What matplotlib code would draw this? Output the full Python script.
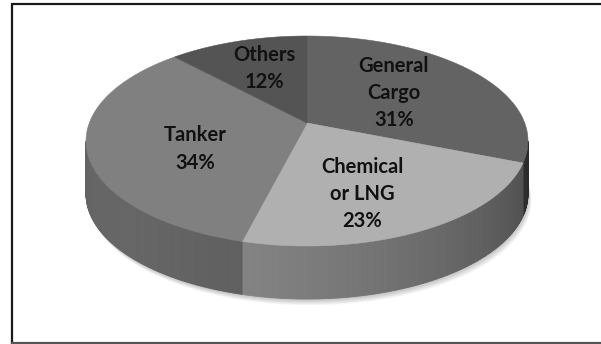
import numpy as np
import matplotlib.pyplot as plt
from matplotlib.collections import PolyCollection
from matplotlib.patches import Polygon

# Ship types and their share of the fleet (clockwise from 12 o'clock)
labels = ["General\nCargo", "Chemical\nor LNG", "Tanker", "Others"]
shares = [31, 23, 34, 12]
top_grays = [0.39, 0.69, 0.50, 0.33]

# Label placement inside each slice: radius fraction and angle nudge (deg)
label_r = [0.52, 0.66, 0.55, 0.63]
label_shift = [-2, 7, -12, 1.5]

# Perspective pie geometry (pixel space)
cx, cy = 307, 123          # where the slices meet
a, b, k = 217.7, 101.9, 0.1715
depth = 53


def project(x, y):
    d = 1 + k * y
    return cx + a * x / d, cy - b * y / d


def arc(t0, t1, n):
    t = np.radians(np.linspace(t0, t1, n))
    return project(np.sin(t), np.cos(t))


def side_shade(theta):
    return 0.58 + 0.22 * np.cos(np.radians(theta - 235))


fig = plt.figure(figsize=(6.01, 3.44), dpi=100)
ax = fig.add_axes([0, 0, 1, 1])
ax.set_xlim(0, 601)
ax.set_ylim(344, 0)
ax.axis("off")

# chart frame
ax.plot([11.5, 11.5, 602], [342.5, 3.5, 3.5], color="#1a1a1a", lw=1.6,
        solid_joinstyle="miter")
ax.plot([11.5, 602], [342.5, 342.5], color="#555555", lw=1.6)

# soft shadow under the pie
sx, sy = arc(0, 360, 200)
for s in range(7, 0, -1):
    ax.add_patch(Polygon(np.column_stack([sx + s * 0.5, sy + depth + s * 0.9]),
                         closed=True, fc="black", ec="none", alpha=0.035, zorder=1))

edges = np.concatenate([[0], np.cumsum(shares)]) / sum(shares) * 360
front0 = np.degrees(np.arccos(-k))
front1 = 360 - front0

# sides (front half only)
quads, colors = [], []
for i, g in enumerate(top_grays):
    t0, t1 = max(edges[i], front0), min(edges[i + 1], front1)
    if t1 <= t0:
        continue
    ts = np.linspace(t0, t1, max(int((t1 - t0) * 2), 2))
    px, py = project(np.sin(np.radians(ts)), np.cos(np.radians(ts)))
    for j in range(len(ts) - 1):
        quads.append([(px[j], py[j]), (px[j + 1], py[j + 1]),
                      (px[j + 1], py[j + 1] + depth), (px[j], py[j] + depth)])
        c = g * side_shade(0.5 * (ts[j] + ts[j + 1]))
        colors.append((c, c, c))
ax.add_collection(PolyCollection(quads, facecolors=colors, edgecolors=colors,
                                 linewidths=0.6, zorder=2))

# top faces
for i, g in enumerate(top_grays):
    x, y = arc(edges[i], edges[i + 1], 120)
    pts = np.column_stack([np.r_[cx, x], np.r_[cy, y]])
    ax.add_patch(Polygon(pts, closed=True, fc=(g, g, g), ec=(g, g, g),
                         lw=0.4, zorder=3))

# labels
for i, (name, v) in enumerate(zip(labels, shares)):
    mid = np.radians((edges[i] + edges[i + 1]) / 2 + label_shift[i])
    lx, ly = project(label_r[i] * np.sin(mid), label_r[i] * np.cos(mid))
    ax.text(lx, ly, f"{name}\n{v}%", ha="center", va="center",
            fontsize=14.5, fontweight="bold", family=["Lato", "DejaVu Sans"],
            color="#111111", linespacing=1.45, zorder=4)

plt.savefig("out.png", dpi=100)
